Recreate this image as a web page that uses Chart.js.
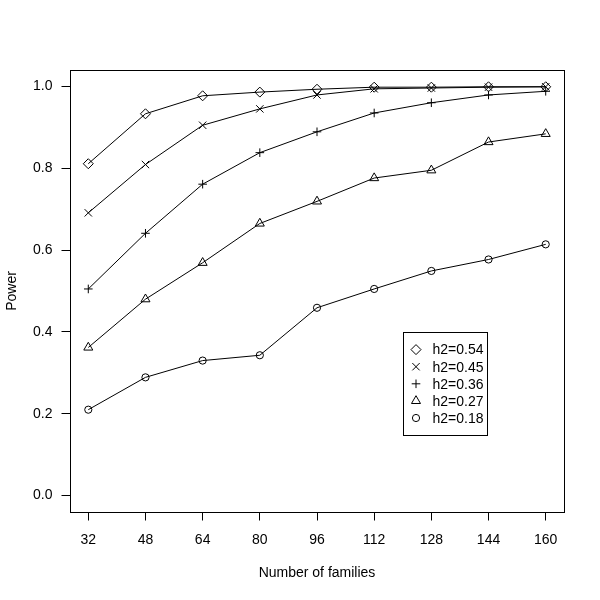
<!DOCTYPE html>
<html>
<head>
<meta charset="utf-8">
<script src="https://cdn.jsdelivr.net/npm/chart.js@4.4.1/dist/chart.umd.min.js"></script>
<style>
  html, body { margin: 0; padding: 0; background: #fff; }
  #powerChart { display: block; }
</style>
</head>
<body>
<canvas id="powerChart" width="600" height="600"></canvas>
<script>
// Data
const families = [32, 48, 64, 80, 96, 112, 128, 144, 160];
const seriesLabels = ['h2=0.54', 'h2=0.45', 'h2=0.36', 'h2=0.27', 'h2=0.18'];
const power054 = [0.811, 0.933, 0.977, 0.986, 0.993, 0.998, 0.998, 0.999, 0.999];
const power045 = [0.691, 0.809, 0.905, 0.945, 0.979, 0.994, 0.996, 0.998, 0.999];
const power036 = [0.505, 0.641, 0.761, 0.838, 0.889, 0.935, 0.960, 0.979, 0.988];
const power027 = [0.362, 0.480, 0.569, 0.665, 0.719, 0.776, 0.795, 0.864, 0.884];
const power018 = [0.210, 0.289, 0.330, 0.343, 0.459, 0.505, 0.549, 0.577, 0.614];
const yTicks = [0, 0.2, 0.4, 0.6, 0.8, 1.0];

const FONT = 'Liberation Sans, Arial, Helvetica, sans-serif';

// Marker style per series (R pch 5, 4, 3, 2, 1)
const markers = [
  { style: 'rectRot', radius: 5 },
  { style: 'crossRot', radius: 5.2 },
  { style: 'cross', radius: 4.3 },
  { style: 'triangle', radius: 5.2 },
  { style: 'circle', radius: 3.6 }
];

const allSeries = [power054, power045, power036, power027, power018];

const datasets = allSeries.map((vals, i) => ({
  label: seriesLabels[i],
  data: vals.map((v, j) => ({ x: families[j], y: v })),
  borderColor: '#000',
  borderWidth: 1,
  pointStyle: markers[i].style,
  pointRadius: markers[i].radius,
  pointBorderColor: '#000',
  pointBackgroundColor: 'rgba(0,0,0,0)',
  pointBorderWidth: 1,
  tension: 0
}));

// 4% padding around data range, like base R
const xPad = (families[families.length - 1] - families[0]) * 0.04;
const yPad = (yTicks[yTicks.length - 1] - yTicks[0]) * 0.04;

// Full box round the plot region
const boxPlugin = {
  id: 'plotBox',
  afterDatasetsDraw(chart) {
    const { ctx, chartArea } = chart;
    ctx.save();
    ctx.strokeStyle = '#000';
    ctx.lineWidth = 1;
    ctx.strokeRect(Math.round(chartArea.left) + 0.5, Math.round(chartArea.top) + 0.5,
      Math.round(chartArea.right - chartArea.left), Math.round(chartArea.bottom - chartArea.top));
    ctx.restore();
  }
};

// Legend box inside the plot, top-left corner at (120, 0.4) like legend(120, 0.4, ...)
const legendPlugin = {
  id: 'boxLegend',
  afterDraw(chart) {
    const { ctx, scales } = chart;
    const left = Math.round(scales.x.getPixelForValue(120)) + 0.5;
    const top = Math.round(scales.y.getPixelForValue(0.4)) + 0.5;
    const rowH = 17.1;
    ctx.save();
    ctx.font = '14px ' + FONT;
    const textW = Math.max(...chart.data.datasets.map(ds => ctx.measureText(ds.label).width));
    const width = Math.round(textW + 33);
    const height = Math.round(rowH * (chart.data.datasets.length + 1));
    ctx.strokeStyle = '#000';
    ctx.lineWidth = 1;
    ctx.strokeRect(left, top, width, height);
    ctx.textAlign = 'left';
    ctx.textBaseline = 'middle';
    chart.data.datasets.forEach((ds, i) => {
      const y = top + rowH * (i + 1);
      ctx.strokeStyle = '#000';
      ctx.fillStyle = 'rgba(0,0,0,0)';
      Chart.helpers.drawPoint(ctx, {
        pointStyle: ds.pointStyle,
        rotation: 0,
        radius: ds.pointRadius,
        borderWidth: 1
      }, left + 12.5, y);
      ctx.fillStyle = '#000';
      ctx.fillText(ds.label, left + 29, y + 1);
    });
    ctx.restore();
  }
};

new Chart(document.getElementById('powerChart'), {
  type: 'line',
  data: { datasets: datasets },
  plugins: [boxPlugin, legendPlugin],
  options: {
    responsive: false,
    devicePixelRatio: 1,
    animation: false,
    layout: { padding: { top: 70, right: 36, left: 0, bottom: 0 } },
    plugins: {
      legend: { display: false },
      tooltip: { enabled: false }
    },
    scales: {
      x: {
        type: 'linear',
        min: families[0] - xPad,
        max: families[families.length - 1] + xPad,
        afterBuildTicks: axis => { axis.ticks = families.map(v => ({ value: v })); },
        afterFit: axis => { axis.height = 88; },
        border: { display: false },
        grid: { drawOnChartArea: false, drawTicks: true, tickLength: 8.5, tickColor: '#000', tickWidth: 1 },
        ticks: {
          padding: 11,
          color: '#000',
          maxRotation: 0,
          autoSkip: false,
          font: { family: FONT, size: 14 },
          callback: v => String(v)
        },
        title: {
          display: true,
          text: 'Number of families',
          color: '#000',
          font: { family: FONT, size: 14 },
          padding: { top: 0, bottom: 18.6 }
        }
      },
      y: {
        type: 'linear',
        min: yTicks[0] - yPad,
        max: yTicks[yTicks.length - 1] + yPad,
        afterBuildTicks: axis => { axis.ticks = yTicks.map(v => ({ value: v })); },
        afterFit: axis => { axis.width = 70; },
        border: { display: false },
        grid: { drawOnChartArea: false, drawTicks: true, tickLength: 8.5, tickColor: '#000', tickWidth: 1 },
        ticks: {
          padding: 9,
          color: '#000',
          autoSkip: false,
          font: { family: FONT, size: 14 },
          callback: v => Number(v).toFixed(1)
        },
        title: {
          display: true,
          text: 'Power',
          color: '#000',
          font: { family: FONT, size: 14 },
          padding: { top: 4, bottom: 0 }
        }
      }
    }
  }
});
</script>
</body>
</html>
